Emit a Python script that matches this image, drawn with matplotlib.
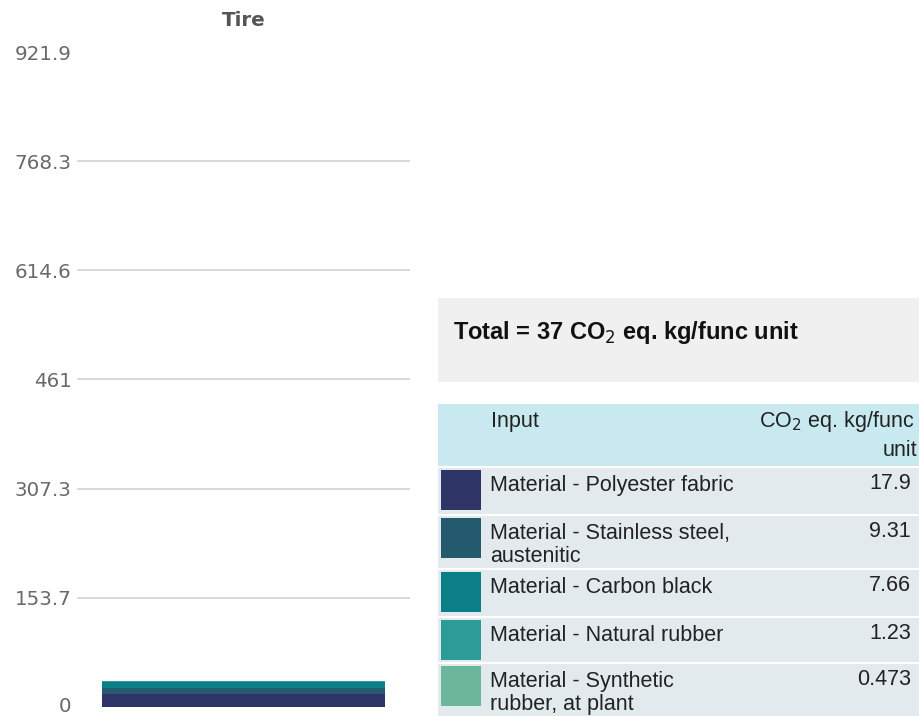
import matplotlib
matplotlib.use("Agg")
import matplotlib.pyplot as plt
from matplotlib.patches import Rectangle
import matplotlib.transforms as mtransforms

# ---- data ----
category = "Tire"
inputs = ["Material - Polyester fabric",
          "Material - Stainless steel,\naustenitic",
          "Material - Carbon black",
          "Material - Natural rubber",
          "Material - Synthetic\nrubber, at plant"]
values = [17.9, 9.31, 7.66, 1.23, 0.473]
value_labels = ["17.9", "9.31", "7.66", "1.23", "0.473"]
colors = ["#2e3566", "#245a6e", "#0b7f87", "#2b9c98", "#6cb69b"]
tick_values = [0, 153.7, 307.3, 461, 614.6, 768.3, 921.9]
tick_labels = ["0", "153.7", "307.3", "461", "614.6", "768.3", "921.9"]
total_label = "Total = 37 CO$_2$ eq. kg/func unit"

W, H = 919, 716
fig = plt.figure(figsize=(W / 100, H / 100), dpi=100)

# ---- bar chart ----
ax = fig.add_axes([77 / W, 1 - 707 / H, 333 / W, (707 - 52) / H])
bottom = 0
for v, c in zip(values, colors):
    ax.bar([0], [v], bottom=bottom, width=0.85, color=c, zorder=3)
    bottom += v
ax.set_xlim(-0.5, 0.5)
ax.set_ylim(0, 921.9)
ax.set_yticks(tick_values)
ax.set_yticklabels(tick_labels, fontfamily="DejaVu Sans", fontsize=14.3, color="#6a6a6a")
ax.set_xticks([])
ax.tick_params(axis="y", length=0, pad=4)
for s in ax.spines.values():
    s.set_visible(False)
ax.grid(axis="y", color="#cfcfcf", linewidth=1.1, zorder=0)
gl = ax.get_ygridlines()
gl[0].set_visible(False)
gl[-1].set_visible(False)
# nudge the bottom "0" label up slightly so it stays inside the canvas
zero_lab = ax.get_yticklabels()[0]
zero_lab.set_transform(zero_lab.get_transform() +
                       mtransforms.ScaledTranslation(0, 2 / 100, fig.dpi_scale_trans))

# ---- overlay for title and table ----
ov = fig.add_axes([0, 0, 1, 1])
ov.set_xlim(0, W)
ov.set_ylim(H, 0)
ov.axis("off")

ov.text(243.5, 21, category, ha="center", va="center", fontsize=14.3,
        fontweight="bold", color="#555555", fontfamily="DejaVu Sans")

# total box
ov.add_patch(Rectangle((438, 298), W - 438, 84, color="#f0f0f0", lw=0))
ov.text(453, 332, total_label, ha="left", va="center", fontsize=17,
        fontweight="bold", color="#111111", fontfamily="Liberation Sans")

FS = 15.5
# header
ov.add_patch(Rectangle((438, 404), W - 438, 62, color="#c8e9f0", lw=0))
ov.text(491, 421, "Input", ha="left", va="center", fontsize=FS,
        color="#222222", fontfamily="Liberation Sans")
ov.text(914, 421, "CO$_2$ eq. kg/func", ha="right", va="center", fontsize=FS,
        color="#222222", fontfamily="Liberation Sans")
ov.text(917, 451, "unit", ha="right", va="center", fontsize=FS,
        color="#222222", fontfamily="Liberation Sans")

row_tops = [468, 516, 570, 618, 664]
row_bots = [514, 568, 616, 662, 716]
for name, lab, c, t, b in zip(inputs, value_labels, colors, row_tops, row_bots):
    ov.add_patch(Rectangle((438, t), W - 438, b - t, color="#e2eaee", lw=0))
    ov.add_patch(Rectangle((441, t + 2), 40, 40, color=c, lw=0))
    ov.text(490, t + 7, name, ha="left", va="top", fontsize=FS, color="#222222",
            fontfamily="Liberation Sans", linespacing=1.13)
    ov.text(911, t + 5, lab, ha="right", va="top", fontsize=FS, color="#222222",
            fontfamily="Liberation Sans")

fig.savefig("out.png", dpi=100)
